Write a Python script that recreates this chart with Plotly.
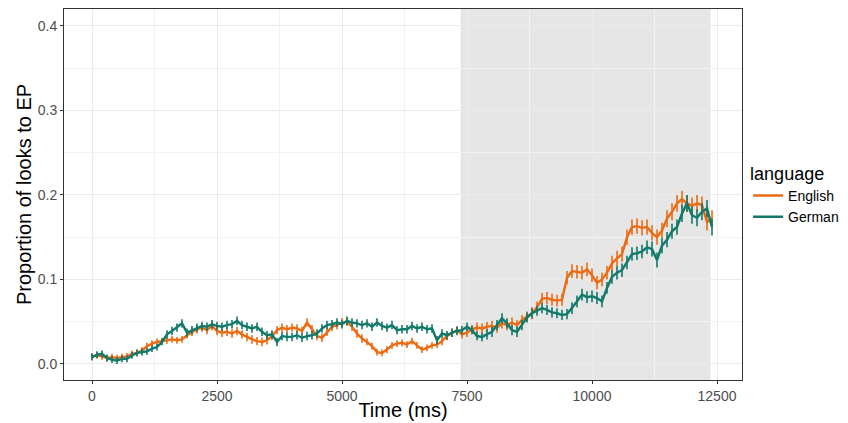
import plotly.graph_objects as go

# Time points (ms)
time_ms = list(range(0, 12500, 100))

english = [
    0.009, 0.010, 0.009, 0.007, 0.008, 0.007, 0.008, 0.009, 0.012, 0.013,
    0.016, 0.021, 0.024, 0.026, 0.027, 0.028, 0.029, 0.028, 0.029, 0.034,
    0.038, 0.041, 0.043, 0.040, 0.045, 0.039, 0.037, 0.038, 0.036, 0.039,
    0.035, 0.032, 0.029, 0.027, 0.026, 0.028, 0.033, 0.040, 0.043, 0.041,
    0.043, 0.042, 0.039, 0.049, 0.041, 0.033, 0.031, 0.038, 0.044, 0.046,
    0.049, 0.050, 0.044, 0.036, 0.030, 0.026, 0.021, 0.014, 0.013, 0.017,
    0.022, 0.024, 0.025, 0.023, 0.027, 0.022, 0.017, 0.019, 0.022, 0.023,
    0.027, 0.033, 0.037, 0.040, 0.035, 0.037, 0.041, 0.043, 0.042, 0.044,
    0.045, 0.043, 0.048, 0.046, 0.049, 0.046, 0.052, 0.056, 0.060, 0.067,
    0.077, 0.078, 0.076, 0.075, 0.076, 0.102, 0.110, 0.109, 0.108, 0.112,
    0.105, 0.096, 0.100, 0.108, 0.119, 0.125, 0.130, 0.150, 0.162, 0.163,
    0.161, 0.162, 0.155, 0.150, 0.158, 0.172, 0.180, 0.190, 0.195, 0.190,
    0.187, 0.190, 0.188, 0.168, 0.172,
]

german = [
    0.008, 0.011, 0.012, 0.007, 0.005, 0.004, 0.006, 0.006, 0.010, 0.013,
    0.014, 0.015, 0.018, 0.020, 0.026, 0.035, 0.039, 0.043, 0.048, 0.037,
    0.040, 0.043, 0.045, 0.044, 0.047, 0.045, 0.044, 0.046, 0.047, 0.051,
    0.046, 0.044, 0.042, 0.044, 0.038, 0.034, 0.035, 0.026, 0.033, 0.032,
    0.032, 0.034, 0.031, 0.033, 0.034, 0.036, 0.042, 0.046, 0.047, 0.049,
    0.047, 0.051, 0.049, 0.048, 0.046, 0.048, 0.044, 0.049, 0.045, 0.043,
    0.046, 0.040, 0.041, 0.041, 0.045, 0.042, 0.044, 0.041, 0.042, 0.028,
    0.036, 0.034, 0.037, 0.039, 0.040, 0.044, 0.040, 0.033, 0.032, 0.035,
    0.038, 0.046, 0.054, 0.048, 0.040, 0.038, 0.046, 0.055, 0.060, 0.063,
    0.066, 0.064, 0.061, 0.060, 0.058, 0.059, 0.066, 0.074, 0.082, 0.079,
    0.080, 0.078, 0.074, 0.090, 0.103, 0.108, 0.111, 0.120, 0.130, 0.131,
    0.133, 0.138, 0.136, 0.123, 0.140, 0.147, 0.157, 0.162, 0.178, 0.190,
    0.176, 0.173, 0.180, 0.184, 0.162,
]

english_se = [
    0.004, 0.004, 0.004, 0.004, 0.004, 0.004, 0.004, 0.004, 0.004, 0.004,
    0.004, 0.004, 0.004, 0.004, 0.004, 0.004, 0.004, 0.004, 0.004, 0.004,
    0.005, 0.005, 0.005, 0.005, 0.005, 0.005, 0.005, 0.005, 0.005, 0.005,
    0.005, 0.005, 0.005, 0.005, 0.005, 0.005, 0.005, 0.005, 0.005, 0.005,
    0.005, 0.005, 0.005, 0.005, 0.005, 0.005, 0.005, 0.005, 0.005, 0.005,
    0.005, 0.005, 0.005, 0.005, 0.005, 0.004, 0.004, 0.004, 0.004, 0.004,
    0.004, 0.004, 0.004, 0.004, 0.004, 0.004, 0.004, 0.004, 0.004, 0.004,
    0.005, 0.005, 0.005, 0.005, 0.005, 0.005, 0.005, 0.006, 0.006, 0.006,
    0.006, 0.006, 0.006, 0.006, 0.006, 0.006, 0.006, 0.006, 0.007, 0.007,
    0.007, 0.007, 0.007, 0.007, 0.007, 0.008, 0.008, 0.008, 0.008, 0.008,
    0.008, 0.008, 0.008, 0.008, 0.009, 0.009, 0.009, 0.009, 0.009, 0.009,
    0.009, 0.009, 0.009, 0.009, 0.009, 0.010, 0.010, 0.010, 0.010, 0.010,
    0.010, 0.010, 0.010, 0.010, 0.010,
]

german_se = [
    0.004, 0.004, 0.004, 0.004, 0.004, 0.004, 0.004, 0.004, 0.004, 0.004,
    0.004, 0.004, 0.004, 0.004, 0.004, 0.005, 0.005, 0.005, 0.005, 0.005,
    0.005, 0.005, 0.005, 0.005, 0.005, 0.005, 0.005, 0.005, 0.005, 0.005,
    0.005, 0.005, 0.005, 0.005, 0.005, 0.005, 0.005, 0.005, 0.005, 0.005,
    0.005, 0.005, 0.005, 0.005, 0.005, 0.005, 0.005, 0.005, 0.005, 0.005,
    0.005, 0.005, 0.005, 0.005, 0.005, 0.005, 0.005, 0.005, 0.005, 0.005,
    0.005, 0.005, 0.005, 0.005, 0.005, 0.005, 0.005, 0.005, 0.005, 0.005,
    0.005, 0.005, 0.005, 0.005, 0.005, 0.005, 0.005, 0.005, 0.005, 0.006,
    0.006, 0.006, 0.006, 0.006, 0.006, 0.006, 0.006, 0.006, 0.006, 0.006,
    0.006, 0.006, 0.006, 0.006, 0.006, 0.006, 0.007, 0.007, 0.007, 0.007,
    0.007, 0.007, 0.007, 0.007, 0.008, 0.008, 0.008, 0.008, 0.008, 0.008,
    0.008, 0.008, 0.009, 0.009, 0.009, 0.009, 0.009, 0.009, 0.010, 0.010,
    0.010, 0.010, 0.010, 0.010, 0.010,
]

x_ticks = [0, 2500, 5000, 7500, 10000, 12500]
y_ticks = [0.0, 0.1, 0.2, 0.3, 0.4]
y_tick_labels = ["0.0", "0.1", "0.2", "0.3", "0.4"]
shade_start, shade_end = 7370, 12370

orange = "#EC6B12"
teal = "#11796A"

fig = go.Figure()

fig.add_trace(go.Scatter(
    x=time_ms, y=english, mode="lines", name="English",
    line=dict(color=orange, width=2.4),
    error_y=dict(type="data", array=english_se, visible=True,
                 color=orange, thickness=1.6, width=0),
))
fig.add_trace(go.Scatter(
    x=time_ms, y=german, mode="lines", name="German",
    line=dict(color=teal, width=2.4),
    error_y=dict(type="data", array=german_se, visible=True,
                 color=teal, thickness=1.6, width=0),
))

fig.add_shape(type="rect", xref="x", yref="paper",
              x0=shade_start, x1=shade_end, y0=0, y1=1,
              fillcolor="rgba(128,128,128,0.2)", line=dict(width=0),
              layer="between")

font_family = "Liberation Sans, Arial, sans-serif"

# The page body adds an 8px offset; the figure is sized to fill the rest.
fig.update_layout(
    width=840, height=415,
    margin=dict(l=56, r=106, t=1, b=43, autoexpand=False),
    paper_bgcolor="white", plot_bgcolor="white",
    font=dict(family=font_family, color="black"),
    showlegend=True,
    legend=dict(
        title=dict(text="language", font=dict(size=18, color="black")),
        font=dict(size=14, color="black"),
        x=1.009, xanchor="left", y=0.5, yanchor="middle",
        bgcolor="rgba(0,0,0,0)", tracegroupgap=0,
    ),
    xaxis=dict(
        range=[-560, 13000], automargin=False,
        tickmode="array", tickvals=x_ticks,
        ticktext=[str(v) for v in x_ticks],
        tickfont=dict(size=14, color="#4D4D4D"),
        ticks="outside", ticklen=3, tickcolor="#333333",
        showgrid=True, gridcolor="#EBEBEB", gridwidth=1,
        minor=dict(showgrid=True, gridcolor="#F3F3F3", gridwidth=0.6,
                   tickmode="array", tickvals=[1250, 3750, 6250, 8750, 11250]),
        showline=True, mirror=True, linecolor="#333333", linewidth=1,
        zeroline=False,
        title=dict(text="Time (ms)", font=dict(size=20, color="black"), standoff=0),
    ),
    yaxis=dict(
        range=[-0.019, 0.42], automargin=False,
        tickmode="array", tickvals=y_ticks, ticktext=y_tick_labels,
        tickfont=dict(size=14, color="#4D4D4D"),
        ticks="outside", ticklen=3, tickcolor="#333333",
        showgrid=True, gridcolor="#EBEBEB", gridwidth=1,
        minor=dict(showgrid=True, gridcolor="#F3F3F3", gridwidth=0.6,
                   tickmode="array", tickvals=[0.05, 0.15, 0.25, 0.35]),
        showline=True, mirror=True, linecolor="#333333", linewidth=1,
        zeroline=False,
        title=dict(text="Proportion of looks to EP", font=dict(size=20, color="black"), standoff=0),
    ),
)

fig.write_html("out.html")
